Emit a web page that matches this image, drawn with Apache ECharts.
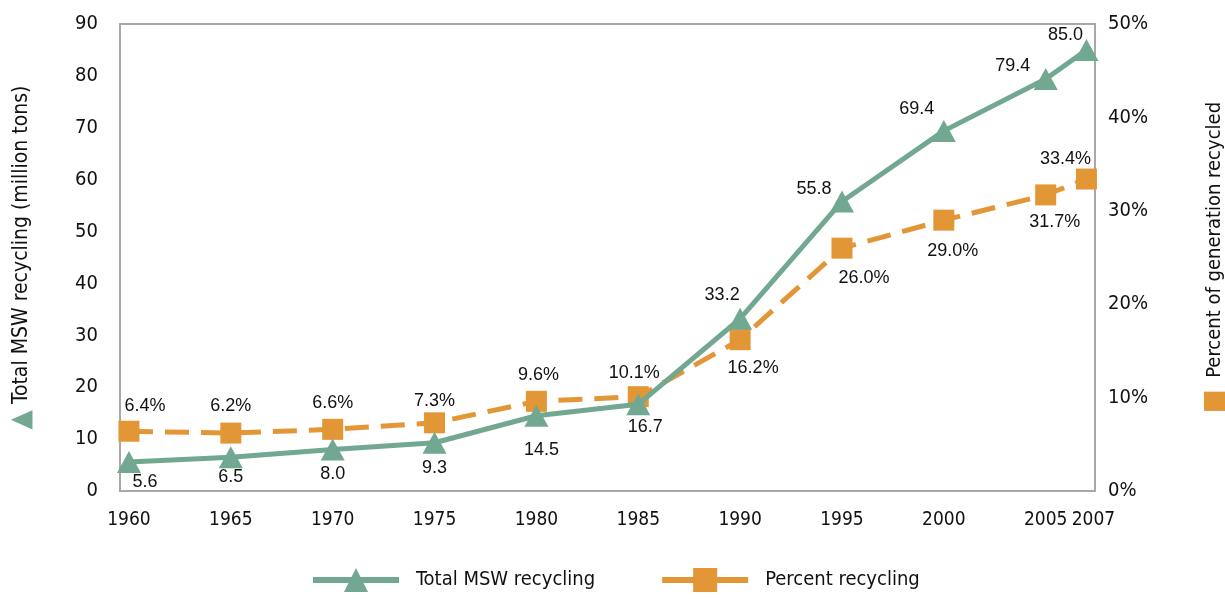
<!DOCTYPE html>
<html>
<head>
<meta charset="utf-8">
<script src="https://cdn.jsdelivr.net/npm/echarts@6/dist/echarts.min.js"></script>
<style>
  html, body { margin: 0; padding: 0; background: #fff; }
  #chart { width: 1225px; height: 599px; }
</style>
</head>
<body>
<div id="chart"></div>
<script>
// data
var years = [1960, 1965, 1970, 1975, 1980, 1985, 1990, 1995, 2000, 2005, 2007];
var totalTons = [5.6, 6.5, 8.0, 9.3, 14.5, 16.7, 33.2, 55.8, 69.4, 79.4, 85.0];
var percentRecycled = [6.4, 6.2, 6.6, 7.3, 9.6, 10.1, 16.2, 26.0, 29.0, 31.7, 33.4];
var yearTicks = [1960, 1965, 1970, 1975, 1980, 1985, 1990, 1995, 2000, 2005, 2007];

// label offsets from each point (style only)
var tonsLabelDx = [16, 0, 0, 0, 5, 7, -18, -28, -27, -33, -21];
var tonsLabelDy = [20, 20, 25, 25, 34, 23, -24, -12, -22, -13, -15];
var pctLabelDx = [16, 0, 0, 0, 2, -4, 13, 22, 9, 9, -21];
var pctLabelDy = [-25, -27, -26, -22, -26, -24, 28, 30, 31, 27, -20];

var green = '#72a891';
var orange = '#e39636';
var condensed = '"DejaVu Sans Condensed", sans-serif';
var labelFont = '"Liberation Sans", Arial, sans-serif';

function buildData(vals, dx, dy, fmt) {
    return vals.map(function (v, i) {
        return {
            value: [years[i], v],
            label: { offset: [dx[i], dy[i]], formatter: fmt }
        };
    });
}

// 2005 and 2007 sit close together, so the last tick goes on its own axis
// to keep the overlap check from dropping one of them
function yearAxis(ticks, showLine, padLeft) {
    return {
        type: 'value',
        position: 'bottom',
        min: 1959.56,
        max: 2007.42,
        splitLine: { show: false },
        axisLine: { show: showLine, lineStyle: { color: '#a8a8a8', width: 2 } },
        axisTick: { show: false },
        axisLabel: {
            customValues: ticks,
            hideOverlap: false,
            formatter: function (v) { return String(v); },
            margin: 20,
            padding: [0, 0, 0, padLeft],
            fontFamily: condensed,
            fontSize: 19,
            color: '#111'
        }
    };
}

var chart = echarts.init(document.getElementById('chart'));
var option = {
    animation: false,
    grid: {
        left: 120, right: 130, top: 24, bottom: 108,
        outerBoundsMode: 'none',
        show: true, borderColor: '#a8a8a8', borderWidth: 2
    },
    legend: {
        bottom: 2,
        left: 305,
        itemWidth: 86,
        itemHeight: 30,
        itemGap: 64,
        lineStyle: { type: 'solid', width: 6 },
        textStyle: { fontFamily: condensed, fontSize: 20, color: '#111', padding: [0, 0, 0, 12] },
        data: ['Total MSW recycling', 'Percent recycling']
    },
    xAxis: [
        yearAxis(yearTicks.slice(0, -1), true, 0),
        yearAxis(yearTicks.slice(-1), false, 14)
    ],
    yAxis: [
        {
            type: 'value',
            min: 0, max: 90, interval: 10,
            splitLine: { show: false },
            axisLine: { show: true, lineStyle: { color: '#a8a8a8', width: 2 } },
            axisTick: { show: false },
            axisLabel: { margin: 22, fontFamily: condensed, fontSize: 20, color: '#111' },
            name: '{m|▲} Total MSW recycling (million tons)',
            nameLocation: 'middle',
            nameRotate: 90,
            nameGap: 84,
            nameTextStyle: {
                fontFamily: condensed, fontSize: 21, color: '#111',
                rich: { m: { color: green, fontSize: 28 } }
            }
        },
        {
            type: 'value',
            min: 0, max: 50, interval: 10,
            position: 'right',
            splitLine: { show: false },
            axisLine: { show: true, lineStyle: { color: '#a8a8a8', width: 2 } },
            axisTick: { show: false },
            axisLabel: { margin: 13, formatter: '{value}%', fontFamily: condensed, fontSize: 20, color: '#111' },
            name: '{m|■}  Percent of generation recycled',
            nameLocation: 'middle',
            nameRotate: 90,
            nameGap: 106,
            nameTextStyle: {
                fontFamily: condensed, fontSize: 20, color: '#111',
                rich: { m: { color: orange, fontSize: 28 } }
            }
        }
    ],
    series: [
        {
            name: 'Percent recycling',
            type: 'line',
            yAxisIndex: 1,
            data: buildData(percentRecycled, pctLabelDx, pctLabelDy, function (p) { return p.value[1].toFixed(1) + '%'; }),
            symbol: 'rect',
            symbolSize: 21,
            itemStyle: { color: orange },
            lineStyle: { color: orange, width: 5, type: [24, 12] },
            label: {
                show: true, position: 'inside',
                fontFamily: labelFont, fontSize: 18, color: '#111'
            },
            z: 2
        },
        {
            name: 'Total MSW recycling',
            type: 'line',
            data: buildData(totalTons, tonsLabelDx, tonsLabelDy, function (p) { return p.value[1].toFixed(1); }),
            symbol: 'triangle',
            symbolSize: [24, 22],
            itemStyle: { color: green },
            lineStyle: { color: green, width: 5 },
            label: {
                show: true, position: 'inside',
                fontFamily: labelFont, fontSize: 18, color: '#111'
            },
            z: 3
        }
    ]
};
chart.setOption(option);
</script>
</body>
</html>
